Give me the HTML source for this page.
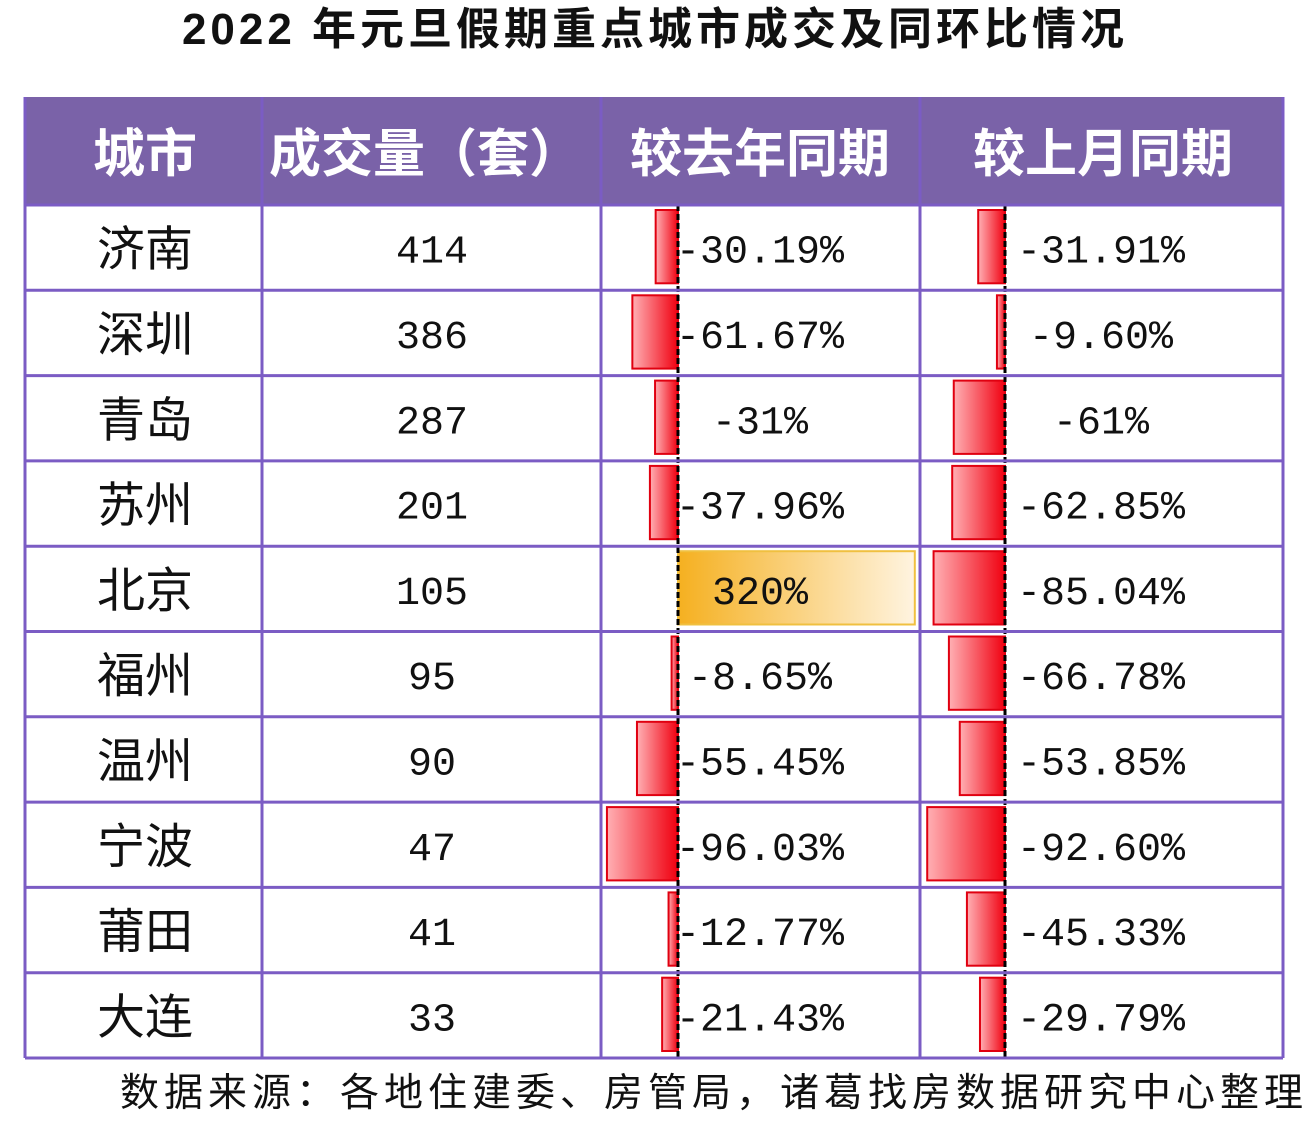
<!DOCTYPE html>
<html><head><meta charset="utf-8"><style>
html,body{margin:0;padding:0;background:#fff;width:1306px;height:1126px;overflow:hidden}
</style></head><body>
<svg id="c" width="1306" height="1126" xmlns="http://www.w3.org/2000/svg">
<defs>
<linearGradient id="red" x1="0" x2="1" y1="0" y2="0"><stop offset="0" stop-color="#ffb0b4"/><stop offset="1" stop-color="#f00010"/></linearGradient>
<linearGradient id="gold" x1="0" x2="1" y1="0" y2="0"><stop offset="0" stop-color="#f5b020"/><stop offset="1" stop-color="#fff4e0"/></linearGradient>
</defs>
<text x="655" y="44" text-anchor="middle" font-family="Liberation Sans, Noto Sans CJK SC, sans-serif" font-weight="bold" font-size="44" letter-spacing="4" fill="#111">2022 年元旦假期重点城市成交及同环比情况</text>
<rect x="25" y="97" width="1258" height="108" fill="#7a62a8"/>
<g font-family="Liberation Sans, Noto Sans CJK SC, sans-serif" font-weight="bold" font-size="52" fill="#fff" text-anchor="middle">
<text x="145" y="172">城市</text>
<text x="425" y="172">成交量（套）</text>
<text x="760" y="172">较去年同期</text>
<text x="1103" y="172">较上月同期</text>
</g>
<g id="body"></g>
<text x="120" y="1106" font-family="Liberation Sans, Noto Sans CJK SC, sans-serif" font-size="39" letter-spacing="5" fill="#111">数据来源：各地住建委、房管局，诸葛找房数据研究中心整理</text>
</svg>
<script>
const cities=["济南","深圳","青岛","苏州","北京","福州","温州","宁波","莆田","大连"];
const volumes=[414,386,287,201,105,95,90,47,41,33];
const yoy=[-30.19,-61.67,-31,-37.96,320,-8.65,-55.45,-96.03,-12.77,-21.43];
const mom=[-31.91,-9.60,-61,-62.85,-85.04,-66.78,-53.85,-92.60,-45.33,-29.79];
const yoyLabels=["-30.19%","-61.67%","-31%","-37.96%","320%","-8.65%","-55.45%","-96.03%","-12.77%","-21.43%"];
const momLabels=["-31.91%","-9.60%","-61%","-62.85%","-85.04%","-66.78%","-53.85%","-92.60%","-45.33%","-29.79%"];

const NS="http://www.w3.org/2000/svg";
const g=document.getElementById('body');
const top0=205,rowH=85.3,left=25,right=1283;
const colX=[25,262,601,920,1283];
const yZero=678,yK=0.74,mZero=1005,mK=0.84;
function rowY(i){return top0+i*rowH;}
function xYoy(v){return yZero+v*yK;}
function xMom(v){return mZero+v*mK;}
function mk(tag,attrs){const e=document.createElementNS(NS,tag);for(const k in attrs)e.setAttribute(k,attrs[k]);g.appendChild(e);return e;}
function bar(x0,x1,y,fill,stroke,name){
  const r=mk('rect',{x:Math.min(x0,x1),y:y+5,width:Math.abs(x1-x0),height:rowH-12,fill:fill,stroke:stroke,'stroke-width':2});
  
  
}
cities.forEach((c,i)=>{
  const y=rowY(i);
  const v=yoy[i];
  if(v<0) bar(xYoy(v),yZero,y,'url(#red)','#e00010','yoy-bar-'+i);
  else bar(yZero,xYoy(v),y,'url(#gold)','#f0c040','yoy-bar-'+i);
  bar(xMom(mom[i]),mZero,y,'url(#red)','#e00010','mom-bar-'+i);
  const ty=y+rowH/2+15;
  const t1=mk('text',{x:145,y:ty+3,'text-anchor':'middle','font-family':'Liberation Sans, Noto Sans CJK SC, sans-serif','font-size':48,fill:'#111'});
  t1.textContent=c;
  
  
  const t2=mk('text',{x:432,y:ty,'text-anchor':'middle','font-family':'Liberation Mono, monospace','font-size':40,fill:'#111'});
  t2.textContent=volumes[i];
  
  
  const t3=mk('text',{x:760,y:ty,'text-anchor':'middle','font-family':'Liberation Mono, monospace','font-size':40,fill:'#111'});
  t3.textContent=yoyLabels[i];
  
  
  const t4=mk('text',{x:1101,y:ty,'text-anchor':'middle','font-family':'Liberation Mono, monospace','font-size':40,fill:'#111'});
  t4.textContent=momLabels[i];
  
  
});
[yZero,mZero].forEach(x=>{
  const l=mk('line',{x1:x,x2:x,y1:top0,y2:rowY(10),stroke:'#000','stroke-width':3,'stroke-dasharray':'6,3'});
  
  
});
for(let i=0;i<=10;i++){
  const l=mk('line',{x1:left,x2:right,y1:rowY(i),y2:rowY(i),stroke:'#7b5cc4','stroke-width':3});
  
  
}
colX.forEach(x=>{
  const l=mk('line',{x1:x,x2:x,y1:97,y2:rowY(10),stroke:'#7b5cc4','stroke-width':3});
  
  
});
</script>
</body></html>
